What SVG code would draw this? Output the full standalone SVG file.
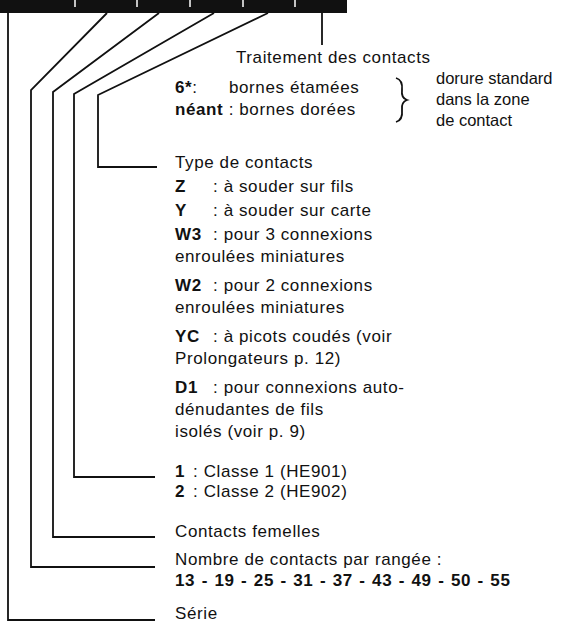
<svg xmlns="http://www.w3.org/2000/svg" width="563" height="622" viewBox="0 0 563 622">
<style>
text{font-family:"Liberation Sans",Arial,sans-serif;font-size:17px;fill:#111;letter-spacing:0.6px;}
.b{font-weight:bold;}
.nums{word-spacing:1.2px;}
.r{letter-spacing:0;font-size:16.5px;}
.ln{fill:none;stroke:#111;stroke-width:1.8;stroke-linejoin:miter;}
.tk{stroke:#fff;stroke-width:1.5;}
</style>
<rect x="0" y="0" width="347" height="13" fill="#111"/>
<g id="ticks">
<line class="tk" x1="75" y1="0" x2="75" y2="7"/>
<line class="tk" x1="137" y1="0" x2="137" y2="7"/>
<line class="tk" x1="190" y1="0" x2="190" y2="7"/>
<line class="tk" x1="243" y1="0" x2="243" y2="7"/>
<line class="tk" x1="295" y1="0" x2="295" y2="7"/>
</g>
<g id="connectors">
<polyline class="ln" points="8,13 8,620 155,620"/>
<polyline class="ln" points="107,13 31,90 31,567 155,567"/>
<polyline class="ln" points="159,13 53,92 53,537 155,537"/>
<polyline class="ln" points="214,13 74,94 74,477 155,477"/>
<polyline class="ln" points="268,13 98,95 98,167 157,167"/>
<polyline class="ln" points="322,13 322,45"/>
<path class="ln" d="M396,78 Q403,80 402,90 Q401,98 407,100 Q401,102 402,110 Q403,120 396,122"/>
</g>
<g id="traitement">
<text x="236" y="63">Traitement des contacts</text>
<text x="175" y="93"><tspan class="b">6*</tspan>:</text>
<text x="229" y="93">bornes étamées</text>
<text x="175" y="115"><tspan class="b">néant</tspan> : bornes dorées</text>
<text class="r" x="436" y="84">dorure standard</text>
<text class="r" x="436" y="105">dans la zone</text>
<text class="r" x="436" y="126">de contact</text>
</g>
<g id="type">
<text x="175" y="168">Type de contacts</text>
<text x="175" y="192" class="b">Z</text><text x="213" y="192">: à souder sur fils</text>
<text x="175" y="216" class="b">Y</text><text x="213" y="216">: à souder sur carte</text>
<text x="175" y="240" class="b">W3</text><text x="213" y="240">: pour 3 connexions</text>
<text x="175" y="262">enroulées miniatures</text>
<text x="175" y="291" class="b">W2</text><text x="213" y="291">: pour 2 connexions</text>
<text x="175" y="313">enroulées miniatures</text>
<text x="175" y="342" class="b">YC</text><text x="213" y="342">: à picots coudés (voir</text>
<text x="175" y="364">Prolongateurs p. 12)</text>
<text x="175" y="393" class="b">D1</text><text x="213" y="393">: pour connexions auto-</text>
<text x="175" y="415">dénudantes de fils</text>
<text x="175" y="437">isolés (voir p. 9)</text>
</g>
<g id="classe">
<text x="175" y="477" class="b">1</text><text x="193" y="477">: Classe 1 (HE901)</text>
<text x="175" y="497" class="b">2</text><text x="193" y="497">: Classe 2 (HE902)</text>
</g>
<g id="femelles"><text x="175" y="537">Contacts femelles</text></g>
<g id="nombre">
<text x="175" y="565">Nombre de contacts par rangée :</text>
<text x="175" y="586" class="b nums">13 - 19 - 25 - 31 - 37 - 43 - 49 - 50 - 55</text>
</g>
<g id="serie"><text x="175" y="619">Série</text></g>
</svg>
